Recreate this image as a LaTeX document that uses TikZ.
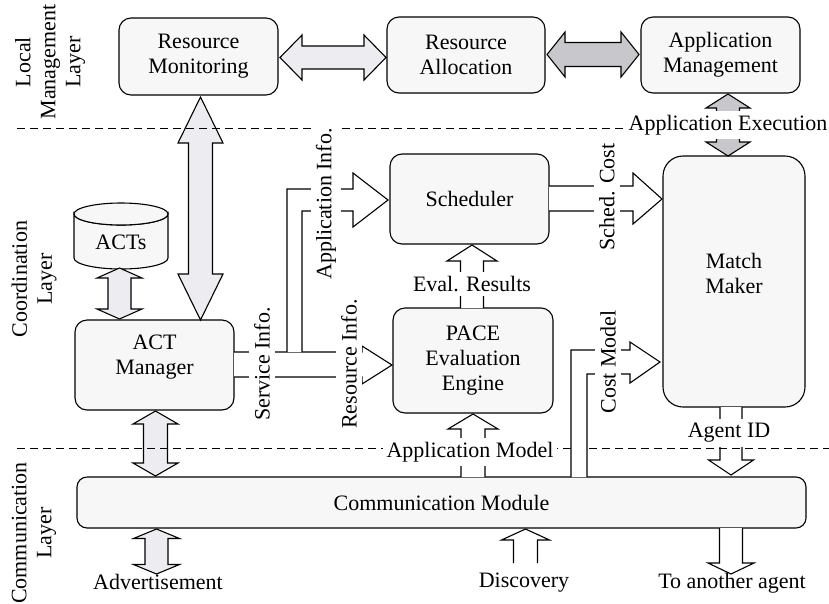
\documentclass[tikz,border=0pt]{standalone}
\usepackage{fontspec}
\setmainfont{Liberation Serif}
\definecolor{boxfill}{HTML}{F7F7F7}
\definecolor{lightarrow}{HTML}{EDEDF1}
\definecolor{darkarrow}{HTML}{C8C8CC}
% horizontal double block arrow: style, x1, x2, yc, head half, shaft half, head length
\newcommand\hdblarr[7]{\path[#1] (#2,#4) -- (#2+#7,#4-#5) -- (#2+#7,#4-#6) -- (#3-#7,#4-#6) -- (#3-#7,#4-#5) -- (#3,#4) -- (#3-#7,#4+#5) -- (#3-#7,#4+#6) -- (#2+#7,#4+#6) -- (#2+#7,#4+#5) -- cycle;}
% vertical double block arrow: style, xc, ytop, ybottom, head half, shaft half, head length
\newcommand\vdblarr[7]{\path[#1] (#2,#3) -- (#2+#5,#3+#7) -- (#2+#6,#3+#7) -- (#2+#6,#4-#7) -- (#2+#5,#4-#7) -- (#2,#4) -- (#2-#5,#4-#7) -- (#2-#6,#4-#7) -- (#2-#6,#3+#7) -- (#2-#5,#3+#7) -- cycle;}
% upward block arrow: style, xc, ytail, ytip, head half, shaft half, head length
\newcommand\uparr[7]{\path[#1] (#2+#6,#3) -- (#2+#6,#4+#7) -- (#2+#5,#4+#7) -- (#2,#4) -- (#2-#5,#4+#7) -- (#2-#6,#4+#7) -- (#2-#6,#3);}
% downward block arrow: style, xc, ytail, ytip, head half, shaft half, head length
\newcommand\downarr[7]{\path[#1] (#2+#6,#3) -- (#2+#6,#4-#7) -- (#2+#5,#4-#7) -- (#2,#4) -- (#2-#5,#4-#7) -- (#2-#6,#4-#7) -- (#2-#6,#3);}
\begin{document}
\begin{tikzpicture}[x=1pt,y=-1pt,
  every node/.style={font=\fontsize{22}{25}\selectfont, inner sep=0pt},
  box/.style={draw, line width=1.1pt, rounded corners=12pt, fill=boxfill, align=center},
  lt/.style={draw, line width=1.1pt, fill=lightarrow, line join=miter},
  dk/.style={draw, line width=1.1pt, fill=darkarrow, line join=miter},
  wt/.style={draw, line width=1.1pt, fill=white, line join=miter},
  lbl/.style={fill=white, inner sep=4pt},
  vlbl/.style={fill=white, inner sep=5pt, rotate=90},
  plain/.style={inner sep=0pt},
  layer/.style={rotate=90, align=center},
  sep/.style={dash pattern=on 8pt off 5pt, line width=1pt}]
\useasboundingbox (0,0) rectangle (829,603);
\fill[white] (0,0) rectangle (829,603);

% boxes
\node[box, minimum width=159pt, minimum height=77pt] (rm) at (198.5,56.5) {Resource\\Monitoring};
\node[box, minimum width=158pt, minimum height=76pt] (ra) at (466,55) {Resource\\Allocation};
\node[box, minimum width=159pt, minimum height=76pt] (am) at (720.5,55) {Application\\Management};
\node[box, minimum width=159pt, minimum height=90pt] (actm) at (154.5,365) {};
\node[plain, align=center] (actmt) at (154.5,357) {ACT\\Manager};
\node[box, minimum width=159pt, minimum height=90pt] (sched) at (469.5,199) {Scheduler};
\node[box, minimum width=160pt, minimum height=105pt] (pace) at (473,360.5) {PACE\\Evaluation\\Engine};
\node[box, rounded corners=20pt, minimum width=142pt, minimum height=251pt] (mm) at (734,281.5) {};
\node[plain, align=center] (mmt) at (734,273) {Match\\Maker};
\node[box, rounded corners=10pt, minimum width=729pt, minimum height=51pt] (comm) at (441.5,502.5) {Communication Module};

% ACTs cylinder
\path[draw, line width=1.1pt, fill=boxfill] (74,214) -- (74,258) arc[start angle=180, end angle=0, x radius=47, y radius=11] -- (168,214) arc[start angle=0, end angle=180, x radius=47, y radius=11] -- cycle;
\draw[line width=1.1pt, fill=boxfill] (121,214) ellipse[x radius=47, y radius=11];
\node[plain] (acts) at (121,242) {ACTs};

% block arrows
\hdblarr{lt}{280}{386}{57.5}{22.5}{11.5}{22}
\hdblarr{dk}{547}{639}{54.5}{22.5}{12}{18}
\vdblarr{lt}{200.5}{97}{320}{22.5}{12}{46}
\vdblarr{lt}{119.5}{268}{319}{22.5}{11.5}{10}
\vdblarr{lt}{155.5}{411}{476}{22.5}{12}{13}
\vdblarr{lt}{156.5}{529}{574}{23}{11.5}{9.5}
\vdblarr{dk}{728}{94}{156}{22}{11.5}{14}
\uparr{wt}{525.5}{563}{529}{24}{12}{11}
\downarr{wt}{731}{528}{574}{23}{11.5}{11}
\downarr{wt}{731}{407}{475}{22.5}{11}{15}
\uparr{wt}{473}{477}{414}{25}{12}{15}
\uparr{wt}{472}{308}{245}{25}{11.5}{16}

% open line arrows
\path[wt] (549,186) -- (633,186) -- (633,173) -- (662,199) -- (633,224) -- (633,211) -- (549,211);
\path[wt] (234,352) -- (362,352) -- (362,346) -- (392,365) -- (362,384) -- (362,377) -- (234,377);
\path[wt] (287,352) -- (287,189) -- (353,189) -- (353,173) -- (388,200) -- (353,227) -- (353,211) -- (302,211) -- (302,352);

% layer separators
\draw[sep] (17,128) -- (826,128);
\draw[sep] (17,448) -- (829,448);

\path[wt] (571,477) -- (571,350) -- (630,350) -- (630,342) -- (660,362) -- (630,383) -- (630,374) -- (587,374) -- (587,477);

% labels
\node[lbl] (lexec) at (728,125) {Application Execution};
\node[lbl] (leval) at (472,284) {Eval. Results};
\node[lbl] (lmodel) at (470,452) {Application Model};
\node[lbl] (lagent) at (729,433) {Agent ID};
\node[vlbl] (lserv) at (262,364) {Service Info.};
\node[vlbl] (lres) at (349,364) {Resource Info.};
\node[vlbl] (lapp) at (326,204) {Application Info.};
\node[vlbl] (lsched) at (607,197) {Sched. Cost};
\node[vlbl] (lcost) at (608,362) {Cost Model};
\node[plain] (ladv) at (158,582) {Advertisement};
\node[plain] (ldisc) at (524,583) {Discovery};
\node[plain] (lother) at (732,583) {To another agent};

\node[layer] (llocal) at (50,62) {Local\\Management\\Layer};
\node[layer] (lcoord) at (34,279) {Coordination\\Layer};
\node[layer] (lcomm) at (34,533) {Communication\\Layer};
\end{tikzpicture}
\end{document}
